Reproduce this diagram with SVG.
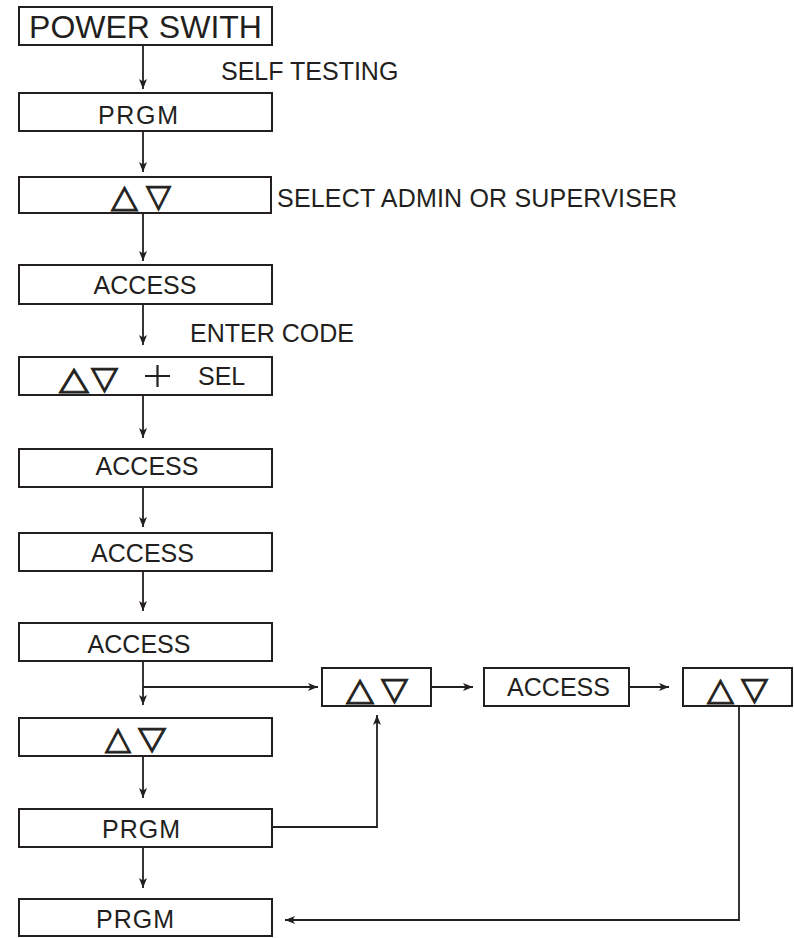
<svg xmlns="http://www.w3.org/2000/svg" width="794" height="938" viewBox="0 0 794 938">
<defs>
<style>
.box{fill:#fff;stroke:#231f20;stroke-width:2}
.t{font-family:"Liberation Sans",Arial,sans-serif;font-size:25px;fill:#231f20}
.m{text-anchor:middle}
.sym{font-family:"DejaVu Sans",sans-serif;font-size:32px;fill:#231f20;stroke:#231f20;stroke-width:0.9}
.c{stroke:#231f20;stroke-width:1.8;fill:none}
</style>
<marker id="ah" markerUnits="userSpaceOnUse" markerWidth="10" markerHeight="8" refX="10" refY="4" orient="auto">
<path d="M0,0 L10,4 L0,8 L2.5,4 z" fill="#231f20"/>
</marker>
</defs>
<rect width="794" height="938" fill="#fff"/>

<g id="connectors">
<path class="c" d="M143,45 V89" marker-end="url(#ah)"/>
<path class="c" d="M143,131 V172" marker-end="url(#ah)"/>
<path class="c" d="M143,213 V261" marker-end="url(#ah)"/>
<path class="c" d="M143,304 V345" marker-end="url(#ah)"/>
<path class="c" d="M143,395 V438" marker-end="url(#ah)"/>
<path class="c" d="M143,487 V527" marker-end="url(#ah)"/>
<path class="c" d="M143,571 V611" marker-end="url(#ah)"/>
<path class="c" d="M143,661 V705" marker-end="url(#ah)"/>
<path class="c" d="M143,687 H318" marker-end="url(#ah)"/>
<path class="c" d="M143,756 V798" marker-end="url(#ah)"/>
<path class="c" d="M143,847 V888" marker-end="url(#ah)"/>
<path class="c" d="M272,827 H377 V715" marker-end="url(#ah)"/>
<path class="c" d="M431,687 H473" marker-end="url(#ah)"/>
<path class="c" d="M629,687 H669" marker-end="url(#ah)"/>
<path class="c" d="M739,706 V920 H285" marker-end="url(#ah)"/>
</g>

<g id="labels">
<text class="t" x="221" y="80">SELF TESTING</text>
<text class="t" x="277" y="207" textLength="400">SELECT ADMIN OR SUPERVISER</text>
<text class="t" x="190" y="342">ENTER CODE</text>
</g>

<g id="n1">
<rect class="box" x="19" y="7" width="253" height="38"/>
<text class="t m" x="145.5" y="38" style="font-size:32px">POWER SWITH</text>
</g>
<g id="n2">
<rect class="box" x="19" y="93" width="253" height="38"/>
<text class="t m" x="138" y="124" textLength="80">PRGM</text>
</g>
<g id="n3">
<rect class="box" x="19" y="177" width="252" height="36"/>
<text class="sym" x="111" y="207" textLength="27" lengthAdjust="spacingAndGlyphs">△</text>
<text class="sym" x="146" y="207" textLength="25" lengthAdjust="spacingAndGlyphs">▽</text>
</g>
<g id="n4">
<rect class="box" x="19" y="265" width="253" height="39"/>
<text class="t m" x="145" y="294">ACCESS</text>
</g>
<g id="n5">
<rect class="box" x="19" y="357" width="253" height="38"/>
<text class="sym" x="59" y="389" textLength="30" lengthAdjust="spacingAndGlyphs">△</text>
<text class="sym" x="91" y="389" textLength="27" lengthAdjust="spacingAndGlyphs">▽</text>
<path d="M145,376 H170 M157.5,365 V387" stroke="#231f20" stroke-width="2.2"/>
<text class="t" x="198" y="385">SEL</text>
</g>
<g id="n6">
<rect class="box" x="19" y="449" width="253" height="38"/>
<text class="t m" x="147" y="475">ACCESS</text>
</g>
<g id="n7">
<rect class="box" x="19" y="533" width="253" height="38"/>
<text class="t m" x="142.5" y="562">ACCESS</text>
</g>
<g id="n8">
<rect class="box" x="19" y="623" width="253" height="38"/>
<text class="t m" x="139" y="653">ACCESS</text>
</g>
<g id="n9">
<rect class="box" x="19" y="718" width="253" height="38"/>
<text class="sym" x="105" y="749" textLength="26" lengthAdjust="spacingAndGlyphs">△</text>
<text class="sym" x="138" y="749" textLength="28" lengthAdjust="spacingAndGlyphs">▽</text>
</g>
<g id="n10">
<rect class="box" x="19" y="809" width="253" height="38"/>
<text class="t m" x="141" y="838" textLength="78">PRGM</text>
</g>
<g id="n11">
<rect class="box" x="19" y="899" width="253" height="37"/>
<text class="t m" x="135" y="928" textLength="78">PRGM</text>
</g>
<g id="nA">
<rect class="box" x="322" y="668" width="109" height="38"/>
<text class="sym" x="346" y="700" textLength="28" lengthAdjust="spacingAndGlyphs">△</text>
<text class="sym" x="381" y="700" textLength="27" lengthAdjust="spacingAndGlyphs">▽</text>
</g>
<g id="nB">
<rect class="box" x="484" y="668" width="145" height="38"/>
<text class="t" x="507" y="696" textLength="103">ACCESS</text>
</g>
<g id="nC">
<rect class="box" x="683" y="668" width="109" height="38"/>
<text class="sym" x="707" y="700" textLength="27" lengthAdjust="spacingAndGlyphs">△</text>
<text class="sym" x="741" y="700" textLength="27" lengthAdjust="spacingAndGlyphs">▽</text>
</g>
</svg>
